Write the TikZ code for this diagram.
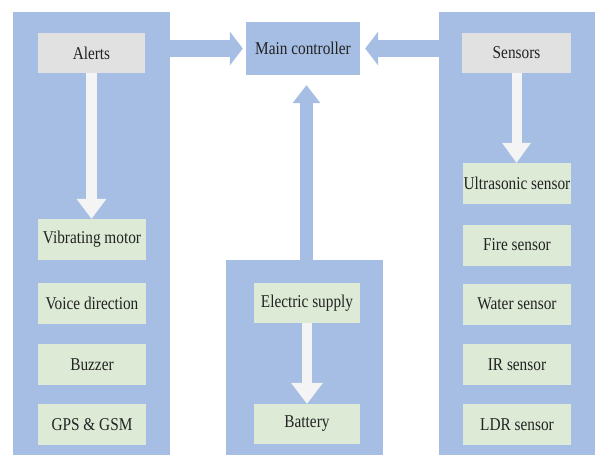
\documentclass[tikz,border=0pt]{standalone}
\usepackage{fontspec}
\setmainfont[FakeStretch=0.85]{Liberation Serif}
\usetikzlibrary{arrows.meta,calc}
\definecolor{panelblue}{HTML}{A6BEE3}
\definecolor{boxgreen}{HTML}{DDEBD6}
\definecolor{boxgray}{HTML}{E1E1E1}
\definecolor{arrowwhite}{HTML}{F4F4F4}
\definecolor{txt}{HTML}{222222}
\begin{document}
\begin{tikzpicture}[x=1pt,y=-1pt,
  panel/.style={fill=panelblue,draw=none,inner sep=0pt,minimum width=#1},
  itembox/.style={fill=boxgreen,draw=none,inner sep=0pt,minimum height=41pt,text=txt,font=\fontsize{18}{20}\selectfont},
  headbox/.style={fill=boxgray,draw=none,inner sep=0pt,minimum height=40pt,text=txt,font=\fontsize{18}{20}\selectfont},
  fatarrow/.style args={#1/#2/#3/#4}{draw=#4,line width=#1,-{Triangle[width=#2,length=#3,line width=0pt]}}
]
\useasboundingbox (0,0) rectangle (595,455);
% panels
\node[panel=157pt,minimum height=443pt] (leftpanel) at (91.5,233.5) {};
\node[panel=156pt,minimum height=443pt] (rightpanel) at (517,233.5) {};
\node[panel=157pt,minimum height=195pt] (midpanel) at (304.5,357.5) {};
\node[panel=114pt,minimum height=53pt,text=txt,font=\fontsize{18}{20}\selectfont] (main) at (303,48.5) {Main controller};
% blue arrows to main controller
\draw[fatarrow=17pt/34pt/13pt/panelblue] (main.west -| leftpanel.east) -- ([xshift=-3pt]main.west);
\draw[fatarrow=17pt/34pt/13pt/panelblue] (main.east -| rightpanel.west) -- ([xshift=5pt]main.east);
\draw[fatarrow=13pt/28pt/18pt/panelblue] ([xshift=2pt]midpanel.north) -- ([xshift=2pt,yshift=-10pt]midpanel.north |- main.south);
% header boxes
\node[headbox,minimum width=107pt] (alerts) at (91.5,53) {Alerts};
\node[headbox,minimum width=109pt] (sensors) at (516.5,53) {Sensors};
% left items
\node[itembox,minimum width=108pt] (vib) at (92,239.5) {Vibrating motor};
\node[itembox,minimum width=108pt] (voice) at (92,303) {Voice direction};
\node[itembox,minimum width=108pt] (buzzer) at (92,364.5) {Buzzer};
\node[itembox,minimum width=108pt] (gps) at (92,424.5) {GPS \& GSM};
% right items
\node[itembox,minimum width=108pt] (ultra) at (517,183.5) {Ultrasonic sensor};
\node[itembox,minimum width=108pt] (fire) at (517,245) {Fire sensor};
\node[itembox,minimum width=108pt] (water) at (517,304) {Water sensor};
\node[itembox,minimum width=108pt] (ir) at (517,364.5) {IR sensor};
\node[itembox,minimum width=108pt] (ldr) at (517,424.5) {LDR sensor};
% middle items
\node[itembox,minimum width=106pt,minimum height=40pt] (elec) at (307,303) {Electric supply};
\node[itembox,minimum width=106pt,minimum height=40pt] (batt) at (307,424) {Battery};
% white arrows
\draw[fatarrow=11pt/30pt/20pt/arrowwhite] (alerts.south) -- (vib.north -| alerts.south);
\draw[fatarrow=10pt/29pt/20pt/arrowwhite] (sensors.south) -- (ultra.north -| sensors.south);
\draw[fatarrow=10pt/32pt/21pt/arrowwhite] (elec.south) -- (batt.north);
\end{tikzpicture}
\end{document}
